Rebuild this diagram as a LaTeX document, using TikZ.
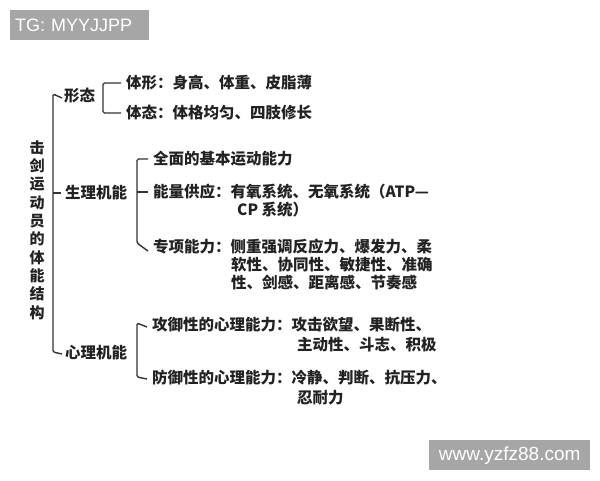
\documentclass[tikz,border=0pt]{standalone}
\usepackage{fontspec}
\setmainfont{Liberation Sans}
\newfontfamily\cjk{Noto Sans CJK SC}
\definecolor{linec}{HTML}{333333}
\definecolor{txtc}{HTML}{222222}
\definecolor{boxgray}{HTML}{A6A6A6}
\begin{document}
\begin{tikzpicture}[x=1pt,y=-1pt,
  ln/.style={draw=linec, line width=1.4pt, rounded corners=1.5pt},
  tx/.style={font=\cjk\bfseries\fontsize{15.5}{18}\selectfont, text=txtc, anchor=west, inner sep=0pt},
  tagbox/.style={fill=boxgray, text=white, inner ysep=0pt, minimum height=30pt}]
\useasboundingbox (0,0) rectangle (600,480);
\fill[white] (0,0) rectangle (600,480);

% watermark boxes
\node[tagbox, anchor=north west, text width=129pt, inner xsep=5pt, align=left,
      font=\fontsize{18}{20}\selectfont] (tg) at (10,10) {TG: MYYJJPP};
\node[tagbox, anchor=north west, minimum width=161pt, inner xsep=0pt,
      font=\fontsize{19}{21}\selectfont] (web) at (429,440) {www.yzfz88.com};

% title (vertical)
\node[tx, anchor=center, align=center, font=\cjk\bfseries\fontsize{15}{18.3}\selectfont]
  (title) at (37,230) {击\\剑\\运\\动\\员\\的\\体\\能\\结\\构};

% level 1
\node[tx] (xt) at (64,96) {形态};
\node[tx] (sl) at (65,193) {生理机能};
\node[tx] (xl) at (65,353) {心理机能};

\coordinate (mtop) at (53,94);
\coordinate (mbot) at (53,352);
\draw[ln] ([xshift=-2pt,yshift=-2pt]xt.west) -- (mtop) -- (mbot) -- ([xshift=-3pt,yshift=-1pt]xl.west);
\draw[ln] (53,193) -- ([xshift=-4pt]sl.west);

% 形态 branch
\node[tx] (tx1) at (126,83) {体形：身高、体重、皮脂薄};
\node[tx] (tx2) at (126,113) {体态：体格均匀、四肢修长};
\coordinate (b1t) at (103,83);
\coordinate (b1b) at (103,113);
\draw[ln] ([xshift=-5pt]tx1.west) -- (b1t) -- (b1b) -- ([xshift=-5pt]tx2.west);

% 生理机能 branch
\node[tx] (s1) at (153,159) {全面的基本运动能力};
\node[tx] (s2) at (153,192) {能量供应：有氧系统、无氧系统（ATP—};
\node[tx] (s2b) at (237,210) {CP 系统）};
\node[tx] (s3) at (153,247) {专项能力：侧重强调反应力、爆发力、柔};
\node[tx] (s3b) at (231,265) {软性、协同性、敏捷性、准确};
\node[tx] (s3c) at (231,283) {性、剑感、距离感、节奏感};
\coordinate (b2t) at (137,159);
\coordinate (b2b) at (137,243);
\draw[ln] ([xshift=-5pt]s1.west) -- (b2t) -- (b2b) -- ([xshift=-5pt,yshift=-4pt]s3.west);
\draw[ln] (137,192) -- ([xshift=-5pt]s2.west);

% 心理机能 branch
\node[tx] (p1) at (152,325) {攻御性的心理能力：攻击欲望、果断性、};
\node[tx] (p1b) at (297,345) {主动性、斗志、积极};
\node[tx] (p2) at (152,378) {防御性的心理能力：冷静、判断、抗压力、};
\node[tx] (p2b) at (297,398) {忍耐力};
\coordinate (b3t) at (137,323);
\coordinate (b3b) at (137,377);
\draw[ln] ([xshift=-5pt,yshift=-2pt]p1.west) -- (b3t) -- (b3b) -- ([xshift=-5pt,yshift=-1pt]p2.west);
\end{tikzpicture}
\end{document}
